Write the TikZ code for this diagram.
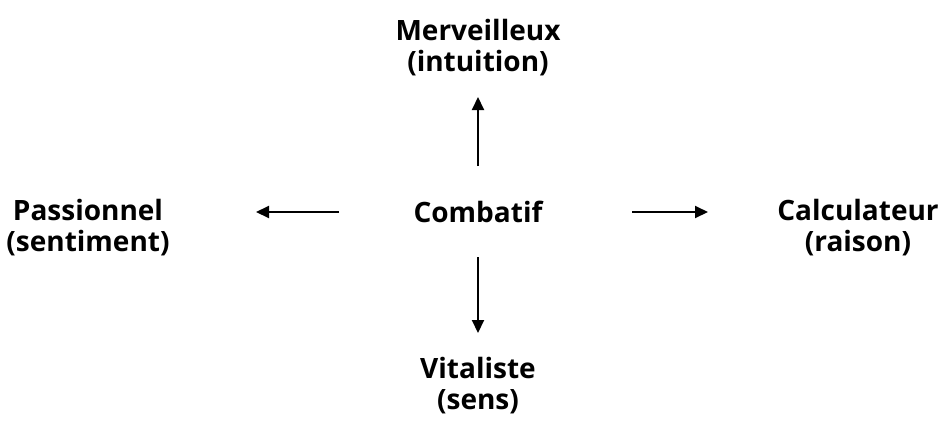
\documentclass[tikz,border=0pt]{standalone}
\usepackage{fontspec}
\setmainfont{Open Sans}
\usetikzlibrary{arrows.meta}
\begin{document}
\begin{tikzpicture}[x=1pt,y=-1pt,
  lbl/.style={font=\bfseries\fontsize{28}{31}\selectfont, align=center, inner sep=0pt},
  arr/.style={line width=2pt, -{Triangle[length=13pt,width=12pt]}}]
\useasboundingbox (0,0) rectangle (946,440);
\node[lbl] (comb) at (478,212) {Combatif};
\node[lbl] (merv) at (478,48) {Merveilleux\\(intuition)};
\node[lbl] (pass) at (88,228) {Passionnel\\(sentiment)};
\node[lbl] (calc) at (858,228) {Calculateur\\(raison)};
\node[lbl] (vita) at (478,386) {Vitaliste\\(sens)};
\coordinate (uS) at (478,166);
\coordinate (uE) at (478,97);
\coordinate (lS) at (339,212);
\coordinate (lE) at (256,212);
\coordinate (rS) at (632,212);
\coordinate (rE) at (708,212);
\coordinate (dS) at (478,257);
\coordinate (dE) at (478,333);
\draw[arr] (uS) -- (uE);
\draw[arr] (lS) -- (lE);
\draw[arr] (rS) -- (rE);
\draw[arr] (dS) -- (dE);
\end{tikzpicture}
\end{document}
